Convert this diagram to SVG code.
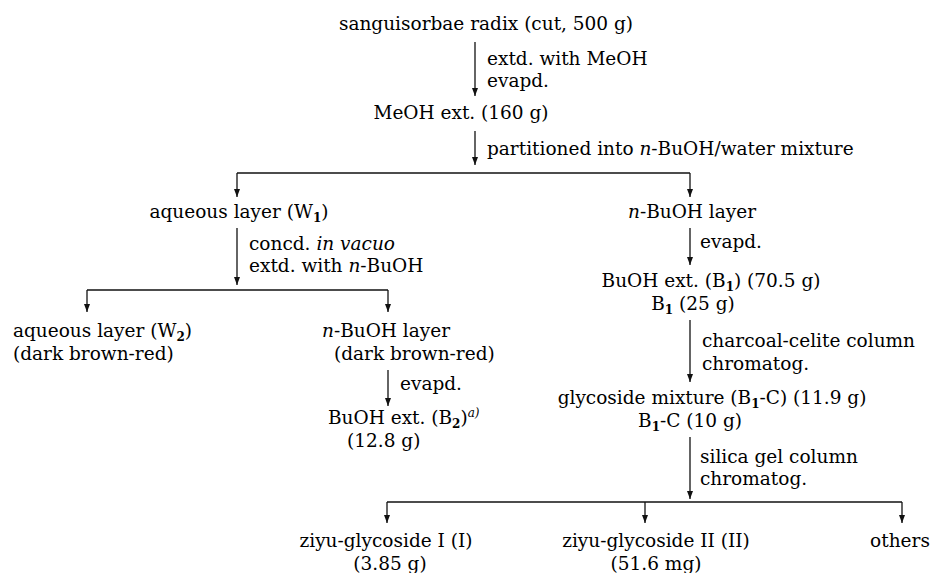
<svg xmlns="http://www.w3.org/2000/svg" width="935" height="573" viewBox="0 0 935 573">
<style>
text{font-family:"DejaVu Serif","Liberation Serif",serif;font-size:18.5px;fill:#000}
.m{text-anchor:middle}
.i{font-style:italic}
.sb{font-size:12px;font-weight:bold}
.ln{stroke:#111;stroke-width:1.3;fill:none}
.ar{stroke:#111;stroke-width:1.3;fill:none;marker-end:url(#ah)}
</style>
<defs>
<marker id="ah" markerWidth="10" markerHeight="10" refX="8" refY="4" orient="auto" markerUnits="userSpaceOnUse">
<path d="M0,1 L8,4 L0,7 Z" fill="#111"/>
</marker>
</defs>
<g id="connectors">
<line class="ar" x1="475" y1="42" x2="475" y2="96"/>
<line class="ar" x1="475" y1="131" x2="475" y2="165"/>
<line class="ln" x1="237" y1="173" x2="690" y2="173"/>
<line class="ar" x1="237" y1="173" x2="237" y2="197"/>
<line class="ar" x1="690" y1="173" x2="690" y2="197"/>
<line class="ar" x1="237" y1="228" x2="237" y2="285"/>
<line class="ar" x1="690" y1="228" x2="690" y2="265"/>
<line class="ln" x1="87" y1="290" x2="388" y2="290"/>
<line class="ar" x1="87" y1="290" x2="87" y2="312"/>
<line class="ar" x1="388" y1="290" x2="388" y2="312"/>
<line class="ar" x1="388" y1="370" x2="388" y2="406"/>
<line class="ar" x1="690" y1="320" x2="690" y2="382"/>
<line class="ar" x1="690" y1="437" x2="690" y2="499"/>
<line class="ln" x1="387" y1="502" x2="902" y2="502"/>
<line class="ar" x1="387" y1="502" x2="387" y2="523"/>
<line class="ar" x1="645" y1="502" x2="645" y2="523"/>
<line class="ar" x1="902" y1="502" x2="902" y2="523"/>
</g>
<g id="labels">
<text x="487" y="65">extd. with MeOH</text>
<text x="487" y="87">evapd.</text>
<text x="487" y="155">partitioned into <tspan class="i">n</tspan>-BuOH/water mixture</text>
<text x="249" y="250">concd. <tspan class="i">in vacuo</tspan></text>
<text x="249" y="272">extd. with <tspan class="i">n</tspan>-BuOH</text>
<text x="700" y="248">evapd.</text>
<text x="400" y="390">evapd.</text>
<text x="702" y="347">charcoal-celite column</text>
<text x="702" y="370">chromatog.</text>
<text x="700" y="463">silica gel column</text>
<text x="700" y="485">chromatog.</text>
</g>
<g id="n-root"><text class="m" x="486" y="30">sanguisorbae radix (cut, 500 g)</text></g>
<g id="n-meoh"><text class="m" x="461" y="119">MeOH ext. (160 g)</text></g>
<g id="n-w1"><text class="m" x="239" y="218">aqueous layer (W<tspan class="sb" dy="4">1</tspan><tspan dy="-4">)</tspan></text></g>
<g id="n-buoh1"><text class="m" x="692" y="218"><tspan class="i">n</tspan>-BuOH layer</text></g>
<g id="n-b1"><text class="m" x="711" y="287">BuOH ext. (B<tspan class="sb" dy="4">1</tspan><tspan dy="-4">) (70.5 g)</tspan></text>
<text class="m" x="693" y="310">B<tspan class="sb" dy="4">1</tspan><tspan dy="-4"> (25 g)</tspan></text></g>
<g id="n-w2"><text x="13" y="337">aqueous layer (W<tspan class="sb" dy="4">2</tspan><tspan dy="-4">)</tspan></text>
<text x="13" y="360">(dark brown-red)</text></g>
<g id="n-buoh2"><text x="322" y="337"><tspan class="i">n</tspan>-BuOH layer</text>
<text x="334" y="360">(dark brown-red)</text></g>
<g id="n-b2"><text x="328" y="424">BuOH ext. (B<tspan class="sb" dy="4">2</tspan><tspan dy="-4">)</tspan><tspan class="i" font-size="12" dy="-7">a)</tspan></text>
<text x="347" y="447">(12.8 g)</text></g>
<g id="n-b1c"><text class="m" x="712" y="404">glycoside mixture (B<tspan class="sb" dy="4">1</tspan><tspan dy="-4">-C) (11.9 g)</tspan></text>
<text class="m" x="690" y="427">B<tspan class="sb" dy="4">1</tspan><tspan dy="-4">-C (10 g)</tspan></text></g>
<g id="n-z1"><text class="m" x="386" y="547">ziyu-glycoside I (I)</text>
<text class="m" x="390" y="570">(3.85 g)</text></g>
<g id="n-z2"><text class="m" x="656" y="547">ziyu-glycoside II (II)</text>
<text class="m" x="656" y="570">(51.6 mg)</text></g>
<g id="n-others"><text class="m" x="900" y="547">others</text></g>
</svg>
